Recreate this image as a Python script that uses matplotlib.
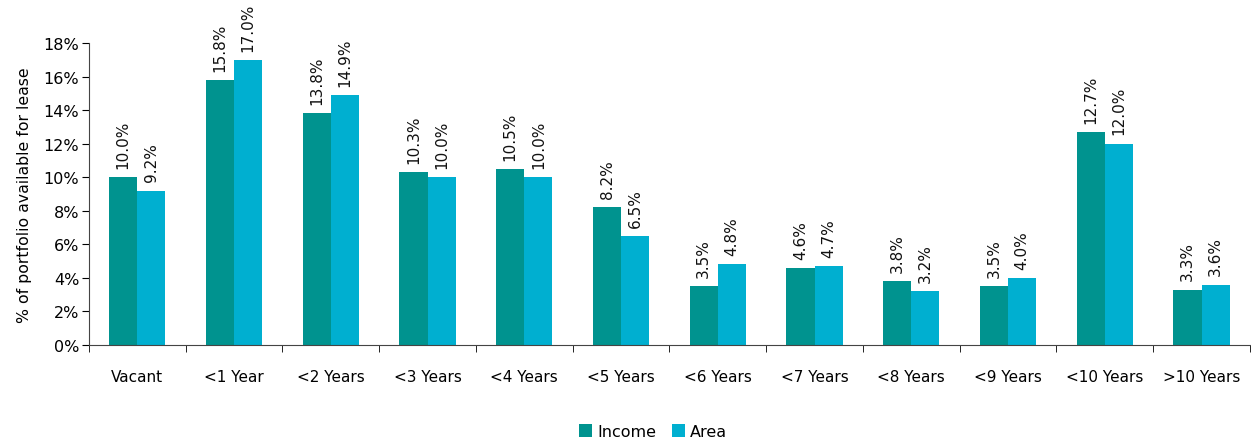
import matplotlib
matplotlib.use("Agg")
import matplotlib.pyplot as plt
import numpy as np
from matplotlib.ticker import FuncFormatter, MultipleLocator

categories = ["Vacant", "<1 Year", "<2 Years", "<3 Years", "<4 Years", "<5 Years",
              "<6 Years", "<7 Years", "<8 Years", "<9 Years", "<10 Years", ">10 Years"]
income = [10.0, 15.8, 13.8, 10.3, 10.5, 8.2, 3.5, 4.6, 3.8, 3.5, 12.7, 3.3]
area = [9.2, 17.0, 14.9, 10.0, 10.0, 6.5, 4.8, 4.7, 3.2, 4.0, 12.0, 3.6]

c_income = "#00938F"
c_area = "#00AFD0"

plt.rcParams['font.family'] = ['DejaVu Sans']
fig = plt.figure(figsize=(12.51, 4.39), dpi=100)
ax = fig.add_axes([0.0711, 0.2118, 0.928, 0.688])

x = np.arange(len(categories))
w = 0.29
b1 = ax.bar(x - w/2, income, w, color=c_income, label="Income")
b2 = ax.bar(x + w/2, area, w, color=c_area, label="Area")

for bars, vals in ((b1, income), (b2, area)):
    for r, v in zip(bars, vals):
        ax.text(r.get_x() + r.get_width()/2, v + 0.55, f"{v:.1f}%", rotation=90,
                ha="center", va="bottom", fontsize=11, color="#111111")

ax.set_xlim(-0.5, len(categories) - 0.5)
ax.set_ylim(0, 18)
ax.yaxis.set_major_locator(MultipleLocator(2))
ax.yaxis.set_major_formatter(FuncFormatter(lambda v, p: f"{v:.0f}%"))
ax.set_xticks(x)
ax.set_xticklabels(categories)
ax.set_xticks(np.arange(len(categories) + 1) - 0.5, minor=True)
ax.tick_params(axis="x", which="major", length=0, pad=17, labelsize=11)
ax.tick_params(axis="x", which="minor", length=5, direction="out")
ax.tick_params(axis="y", length=5, labelsize=11.5, pad=2)
for s in ("top", "right"):
    ax.spines[s].set_visible(False)
ax.spines["left"].set_color("#444444")
ax.spines["bottom"].set_color("#444444")
ax.set_ylabel("% of portfolio available for lease", fontsize=11.3, labelpad=8)

fig.legend(handles=[b1, b2], loc="lower center", bbox_to_anchor=(0.522, -0.035), ncol=2,
           frameon=False, fontsize=11.5, handlelength=0.8, handleheight=0.8,
           handletextpad=0.3, columnspacing=1.0)

fig.savefig("out.png", dpi=100)
